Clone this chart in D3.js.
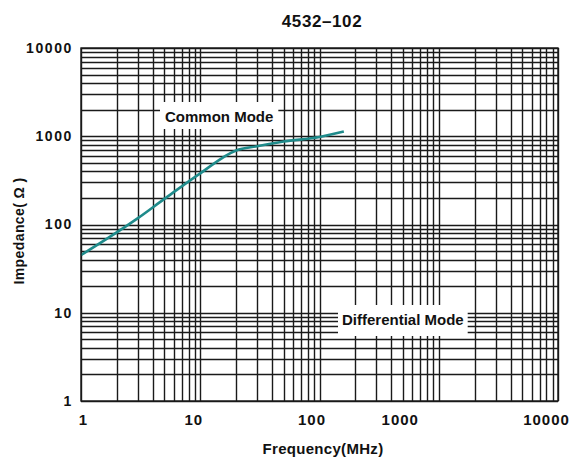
<!DOCTYPE html>
<html>
<head>
<meta charset="utf-8">
<script src="https://cdn.jsdelivr.net/npm/d3@7"></script>
<style>
  html, body { margin: 0; padding: 0; background: #fff; }
  svg { display: block; font-family: "Liberation Sans", Arial, sans-serif; }
</style>
</head>
<body>
<svg id="chart" width="575" height="464"></svg>
<script>
// ---- data ----
const chartTitle = "4532\u2013102";
const xTitle = "Frequency(MHz)";
const yTitle = "Impedance( \u03A9 )";
const freqTicks = [1, 10, 100, 1000, 10000];
const impTicks = [1, 10, 100, 1000, 10000];
const cmFreq = [1, 3, 5, 10, 20, 30, 50, 100, 160];
const cmImp  = [45, 118, 195, 380, 690, 770, 870, 980, 1130];
const labelCommon = "Common Mode";
const labelDiff = "Differential Mode";

// ---- layout ----
const W = 575, H = 464;
const m = {left: 81, right: 17, top: 48, bottom: 63};
const xLabelShift = [2, -7, -8, -39, -12];

const svg = d3.select("#chart");
const x = d3.scaleLog().domain([1, 10000]).range([m.left, W - m.right]);
const y = d3.scaleLog().domain([1, 10000]).range([H - m.bottom, m.top]);

// minor+major grid values
const gridVals = [];
for (let d = 1; d < 10000; d *= 10) for (let k = 1; k <= 9; k++) gridVals.push(d * k);
gridVals.push(10000);

const g = svg.append("g");
g.selectAll("line.vx").data(gridVals).join("line")
  .attr("x1", d => Math.round(x(d)) + 0.5).attr("x2", d => Math.round(x(d)) + 0.5)
  .attr("y1", y(1)).attr("y2", y(10000))
  .attr("stroke", "#1a1a1a").attr("stroke-width", 1.4);
g.selectAll("line.hy").data(gridVals).join("line")
  .attr("y1", d => Math.round(y(d)) + 0.5).attr("y2", d => Math.round(y(d)) + 0.5)
  .attr("x1", x(1)).attr("x2", x(10000))
  .attr("stroke", "#1a1a1a").attr("stroke-width", 1.4);

// label boxes (white background hiding grid)
function boxedLabel(txt, tx, baseline, padL, padR, padTop, padBottom) {
  const t = svg.append("text").attr("x", tx).attr("y", baseline)
    .attr("text-anchor", "start").attr("font-size", 15).attr("font-weight", "bold")
    .attr("fill", "#111").text(txt);
  const bb = t.node().getBBox();
  svg.insert("rect", "text")
    .attr("x", bb.x - padL).attr("y", bb.y - padTop)
    .attr("width", bb.width + padL + padR).attr("height", bb.height + padTop + padBottom)
    .attr("fill", "#fff");
  return t;
}

// common mode curve
const line = d3.line().x(d => x(d[0])).y(d => y(d[1])).curve(d3.curveMonotoneX);
svg.append("path").datum(d3.zip(cmFreq, cmImp))
  .attr("d", line).attr("fill", "none")
  .attr("stroke", "#1f8b8b").attr("stroke-width", 2.6)
  .attr("stroke-linejoin", "round");

boxedLabel(labelCommon, 165, 122, 5, 5, 6, 4);
boxedLabel(labelDiff, 342, 325, 4, 4, 6, 8);

// border
svg.append("rect").attr("x", x(1)).attr("y", y(10000))
  .attr("width", x(10000) - x(1)).attr("height", y(1) - y(10000))
  .attr("fill", "none").attr("stroke", "#1a1a1a").attr("stroke-width", 1.4);

// axes (labels only)
const xAxis = d3.axisBottom(x).tickValues(freqTicks).tickSize(0).tickPadding(13)
  .tickFormat(d3.format("d"));
const xa = svg.append("g").attr("transform", `translate(0,${y(1)})`).call(xAxis);
xa.select(".domain").remove();
xa.selectAll("text").attr("font-size", 15).attr("font-weight", "bold")
  .attr("letter-spacing", 1).attr("fill", "#111").attr("font-family", null)
  .attr("dx", (d, i) => xLabelShift[i]);

const yAxis = d3.axisLeft(y).tickValues(impTicks).tickSize(0).tickPadding(8)
  .tickFormat(d3.format("d"));
const ya = svg.append("g").attr("transform", `translate(${x(1)},0)`).call(yAxis);
ya.select(".domain").remove();
ya.selectAll("text").attr("font-size", 14).attr("font-weight", "bold")
  .attr("letter-spacing", 1.6).attr("fill", "#111").attr("font-family", null);

// titles
svg.append("text").attr("x", 322).attr("y", 27).attr("text-anchor", "middle")
  .attr("font-size", 17).attr("font-weight", "bold").attr("letter-spacing", 0.6)
  .attr("fill", "#111").text(chartTitle);
svg.append("text").attr("x", 323).attr("y", 454).attr("text-anchor", "middle")
  .attr("font-size", 15).attr("font-weight", "bold").attr("letter-spacing", 0.3)
  .attr("fill", "#111").text(xTitle);
svg.append("text").attr("transform", "translate(24,231) rotate(-90)")
  .attr("text-anchor", "middle")
  .attr("font-size", 14).attr("font-weight", "bold").attr("letter-spacing", 0.4)
  .attr("fill", "#111").text(yTitle);
</script>
</body>
</html>
